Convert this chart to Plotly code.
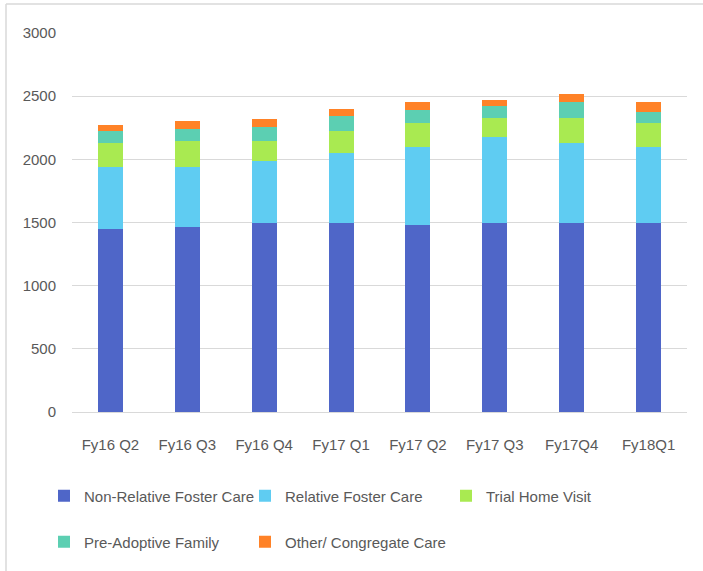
import plotly.graph_objects as go

categories = ["Fy16 Q2", "Fy16 Q3", "Fy16 Q4", "Fy17 Q1", "Fy17 Q2", "Fy17 Q3", "Fy17Q4", "Fy18Q1"]
non_relative = [1448, 1463, 1495, 1495, 1479, 1495, 1495, 1495]
relative = [495, 480, 495, 557, 617, 682, 635, 601]
trial_home = [187, 203, 156, 169, 188, 151, 198, 188]
pre_adoptive = [91, 91, 107, 125, 107, 94, 125, 91]
other_congregate = [50, 63, 65, 50, 62, 47, 63, 78]
y_ticks = [0, 500, 1000, 1500, 2000, 2500, 3000]

FONT = "Liberation Sans, Arial, sans-serif"
GREY = "#595959"
FS = 15

series = [
    ("Non-Relative Foster Care", non_relative, "#4F66C8", "legend"),
    ("Relative Foster Care", relative, "#5FCCF2", "legend"),
    ("Trial Home Visit", trial_home, "#A9EA51", "legend"),
    ("Pre-Adoptive Family", pre_adoptive, "#5CCFB2", "legend2"),
    ("Other/ Congregate Care", other_congregate, "#FF8227", "legend2"),
]

fig = go.Figure()
for name, vals, color, lg in series:
    fig.add_trace(go.Bar(x=categories, y=vals, name=name, marker_color=color,
                         marker_line_width=0, legend=lg))

W, H = 703, 571
L, R, T, B = 72, 16, 33, 159
pw, ph = W - L - R, H - T - B

def px_x(x):
    return (x - L) / pw

def px_y(y):
    return (H - B - y) / ph

legend_common = dict(orientation="h", xanchor="left", yanchor="middle",
                     font=dict(family=FONT, size=FS, color=GREY),
                     entrywidthmode="pixels", entrywidth=156, itemwidth=30,
                     bgcolor="rgba(0,0,0,0)", traceorder="normal")

fig.update_layout(
    width=W, height=H,
    margin=dict(l=L, r=R, t=T, b=B, pad=0),
    barmode="stack", bargap=0.675,
    plot_bgcolor="white", paper_bgcolor="white",
    font=dict(family=FONT, size=FS, color=GREY),
    xaxis=dict(showgrid=False, showline=False, ticks="", ticklabelstandoff=22,
               tickfont=dict(family=FONT, size=FS, color=GREY), fixedrange=True),
    yaxis=dict(range=[0, 3000], tickvals=y_ticks, showgrid=True, gridcolor="#D9D9D9",
               gridwidth=1, zeroline=True, zerolinecolor="#D9D9D9", zerolinewidth=1,
               showline=False, ticks="", ticklabelstandoff=15,
               tickfont=dict(family=FONT, size=FS, color=GREY)),
    legend=dict(x=px_x(44), y=px_y(496), **legend_common),
    legend2=dict(x=px_x(44), y=px_y(542), **legend_common),
    shapes=[
        dict(type="line", xref="paper", yref="paper", x0=px_x(6), x1=px_x(703),
             y0=px_y(4), y1=px_y(4), line=dict(color="#D9D9D9", width=1.5)),
        dict(type="line", xref="paper", yref="paper", x0=px_x(6), x1=px_x(6),
             y0=px_y(4), y1=px_y(571), line=dict(color="#D9D9D9", width=1.5)),
    ],
)

fig.write_html("out.html", config={"displayModeBar": False},
               post_script="document.body.style.margin='0';")
